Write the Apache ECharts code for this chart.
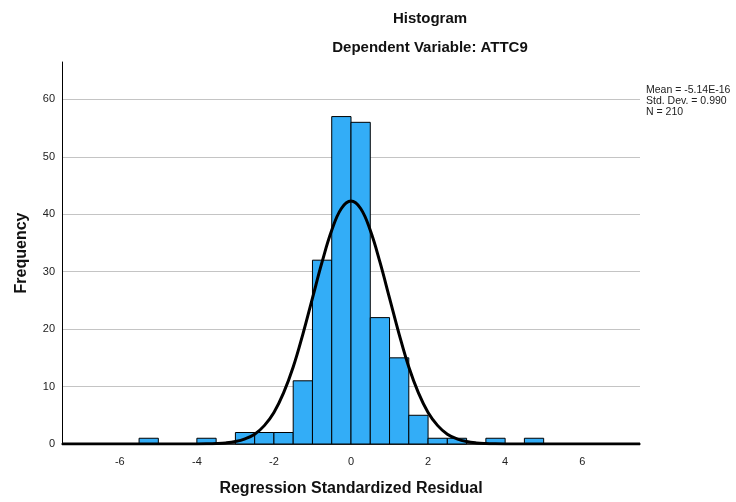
<!DOCTYPE html>
<html>
<head>
<meta charset="utf-8">
<script src="https://cdn.jsdelivr.net/npm/echarts@6/dist/echarts.min.js"></script>
<style>
  html, body { margin: 0; padding: 0; background: #fff; }
  #chart { width: 736px; height: 502px; }
</style>
</head>
<body>
<div id="chart"></div>
<script>
// histogram bins (lower edge) and counts, bin width 0.5
const binStarts = [-5.5, -4, -3, -2.5, -2, -1.5, -1, -0.5, 0, 0.5, 1, 1.5, 2, 2.5, 3.5, 4.5];
const binCounts = [1, 1, 2, 2, 2, 11, 32, 57, 56, 22, 15, 5, 1, 1, 1, 1];
const binWidth = 0.5;

// normal curve
const curveX = [-7.5, -4, -3.75, -3.5, -3.25, -3, -2.75, -2.5, -2.25, -2, -1.75, -1.5, -1.25, -1, -0.75, -0.5, -0.25,
  0, 0.25, 0.5, 0.75, 1, 1.25, 1.5, 1.75, 2, 2.25, 2.5, 2.75, 3, 3.25, 3.5, 3.75, 4, 7.5];
const curveY = [0, 0.01, 0.03, 0.08, 0.19, 0.43, 0.9, 1.7, 3.2, 5.5, 8.9, 13.4, 19.1, 25.4, 31.7, 37.2, 41.0,
  42.3, 41.0, 37.2, 31.7, 25.4, 19.1, 13.4, 8.9, 5.5, 3.2, 1.7, 0.9, 0.43, 0.19, 0.08, 0.03, 0.01, 0];

const xTicks = [-6, -4, -2, 0, 2, 4, 6];
const statLines = ['Mean = -5.14E-16', 'Std. Dev. = 0.990', 'N = 210'];

const font = 'Arial, "Liberation Sans", sans-serif';

const barData = binStarts.map((s, i) => [s, s + binWidth, binCounts[i]]);
const lineData = curveX.map((x, i) => [x, curveY[i]]);

const chart = echarts.init(document.getElementById('chart'));
chart.setOption({
  backgroundColor: '#fff',
  animation: false,
  title: [
    {
      text: 'Histogram',
      left: 425, top: 6, textAlign: 'center',
      textStyle: { fontFamily: font, fontSize: 15, fontWeight: 'bold', color: '#111' }
    },
    {
      text: 'Dependent Variable: ATTC9',
      left: 425, top: 35, textAlign: 'center',
      textStyle: { fontFamily: font, fontSize: 15, fontWeight: 'bold', color: '#111' }
    }
  ],
  graphic: [{
    type: 'text',
    left: 646, top: 85,
    style: {
      text: statLines.join('\n'),
      font: '10.5px ' + font,
      lineHeight: 11,
      fill: '#222'
    }
  }],
  grid: { left: 62, right: 96, top: 62, bottom: 55 },
  xAxis: {
    type: 'value',
    min: -7.5, max: 7.5,
    name: 'Regression Standardized Residual',
    nameLocation: 'middle',
    nameGap: 37,
    nameTextStyle: { fontFamily: font, fontSize: 16, fontWeight: 'bold', color: '#111' },
    axisLine: { show: true, onZero: false, lineStyle: { color: '#000', width: 1.5 } },
    axisTick: { show: false },
    splitLine: { show: false },
    axisLabel: {
      customValues: xTicks,
      margin: 12,
      fontFamily: font, fontSize: 11, color: '#222'
    }
  },
  yAxis: {
    type: 'value',
    min: 0, max: 66.5, interval: 10,
    name: 'Frequency',
    nameLocation: 'middle',
    nameGap: 32,
    nameTextStyle: { fontFamily: font, fontSize: 16, fontWeight: 'bold', color: '#111' },
    axisLine: { show: true, onZero: false, lineStyle: { color: '#000', width: 1 } },
    axisTick: { show: false },
    axisLabel: {
      fontFamily: font, fontSize: 11, color: '#222', margin: 7,
      formatter: v => (v % 10 === 0 && v <= 60 ? String(v) : '')
    },
    splitLine: { show: true, showMaxLine: false, lineStyle: { color: '#c4c4c4', width: 1 } }
  },
  series: [
    {
      type: 'custom',
      data: barData,
      z: 2,
      renderItem: (params, api) => {
        const p0 = api.coord([api.value(0), api.value(2)]);
        const p1 = api.coord([api.value(1), 0]);
        return {
          type: 'rect',
          shape: { x: p0[0], y: p0[1], width: p1[0] - p0[0], height: p1[1] - p0[1] },
          style: { fill: '#33adf7', stroke: '#000', lineWidth: 1 }
        };
      }
    },
    {
      type: 'line',
      data: lineData,
      z: 3,
      showSymbol: false,
      smooth: 0.4,
      lineStyle: { color: '#000', width: 3 }
    }
  ]
});
</script>
</body>
</html>
